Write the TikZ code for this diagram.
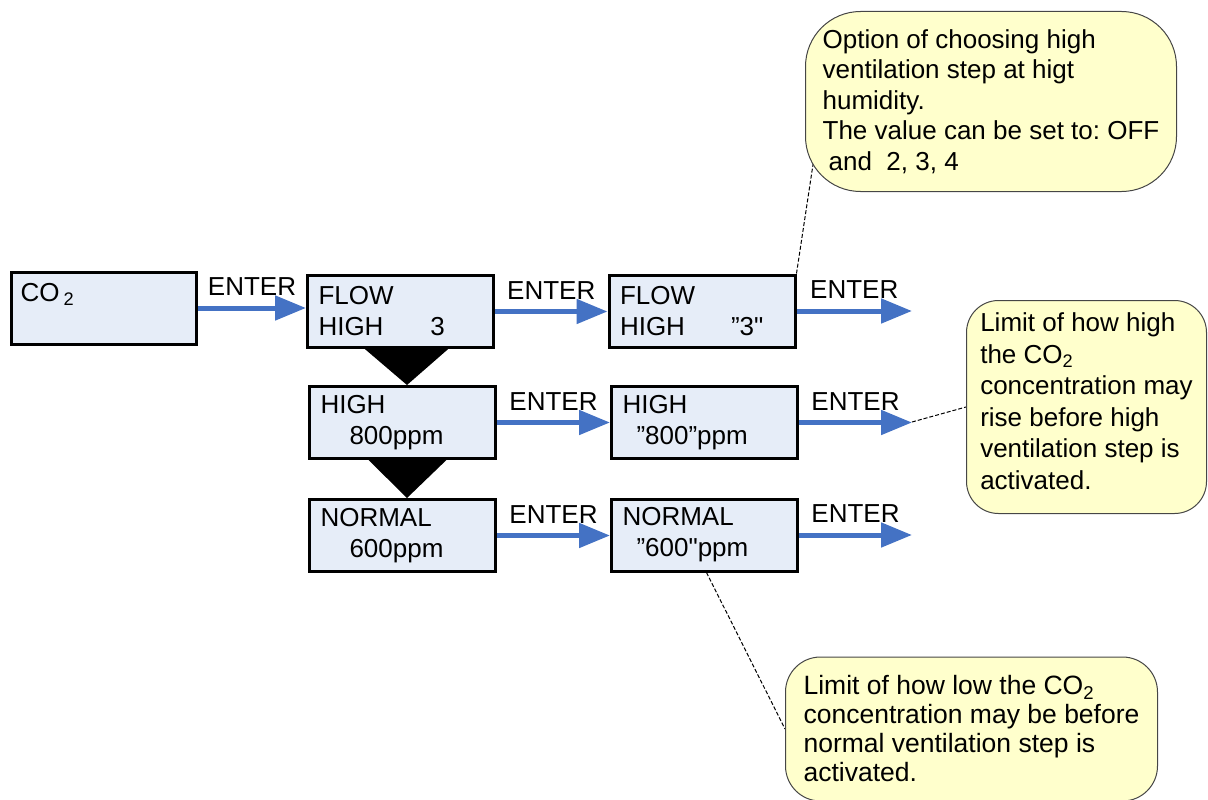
\documentclass[tikz,border=0pt]{standalone}
\usepackage{fontspec}
\setmainfont{Liberation Sans}[Ligatures=TeXOff]
\usetikzlibrary{arrows.meta,backgrounds}
\frenchspacing

\definecolor{cajafondo}{RGB}{230,237,248}
\definecolor{flechaazul}{RGB}{68,114,196}
\definecolor{notafondo}{RGB}{255,255,204}
\definecolor{notaborde}{RGB}{70,70,70}

\tikzset{
  pantalla/.style={draw, line width=3pt, fill=cajafondo, minimum width=186pt, minimum height=72pt,
    text width=164pt, inner xsep=11pt, inner ysep=0pt, align=left, font=\fontsize{26}{31}\selectfont},
  enter/.style={line width=5pt, flechaazul, -{Triangle[length=31pt,width=24pt]}},
  etiqueta/.style={inner sep=0pt, text=black, font=\fontsize{26}{31}\selectfont},
  nota/.style={draw=notaborde, line width=1pt, fill=notafondo, inner sep=0pt, align=left,
    font=\fontsize{26}{30.5}\selectfont},
  guia/.style={black, line width=1pt, dash pattern=on 4pt off 2pt}
}

\begin{document}
\begin{tikzpicture}[x=1pt, y=-1pt]
  \useasboundingbox (0,0) rectangle (1208,800);

  % Pantallas del menu
  \node[pantalla, minimum width=185pt, text width=167pt, inner xsep=9pt] (co2) at (104,308) {CO\hspace{4pt}\textsubscript{2}\\~};
  \node[pantalla] (flow) at (400.5,311.5) {FLOW\\\makebox[112pt][l]{HIGH}3};
  \node[pantalla] (high) at (402.5,422.5) {HIGH\\\hspace*{29pt}800ppm};
  \node[pantalla] (normal) at (402.5,535.5) {NORMAL\\\hspace*{29pt}600ppm};

  % Pantallas con el valor elegido
  \node[pantalla] (flowv) at (702,311) {FLOW\\\makebox[111pt][l]{HIGH}”3"};
  \node[pantalla] (highv) at (704.5,422.5) {HIGH\\\hspace*{14pt}”800”ppm};
  \node[pantalla] (normalv) at (704.5,535) {NORMAL\\\hspace*{14pt}”600"ppm};

  % Extremos libres de las flechas
  \coordinate (flowend) at (912,310);
  \coordinate (highend) at (912,422);
  \coordinate (normalend) at (912,535);

  % Flechas ENTER
  \foreach \a/\b in {co2/flow, flow/flowv, high/highv, normal/normalv} {
    \draw[enter] (\a.east) -- (\a.east -| \b.west) node[etiqueta, midway, above=10pt] {ENTER};
  }
  \foreach \a/\b in {flowv/flowend, highv/highend, normalv/normalend} {
    \draw[enter] (\a.east) -- (\a.east -| \b) node[etiqueta, midway, above=10pt] {ENTER};
  }

  % Triangulos negros entre pantallas
  \fill ([xshift=-38pt,yshift=2pt]flow.south) -- ([xshift=50pt,yshift=2pt]flow.south) -- ([xshift=4.5pt]high.north) -- cycle;
  \fill ([xshift=-36pt,yshift=2pt]high.south) -- ([xshift=46pt,yshift=2pt]high.south) -- ([xshift=4.5pt]normal.north) -- cycle;

  % Notas
  \node[nota, minimum width=371pt, minimum height=180pt, rounded corners=55pt] (nota1) at (991,101.5)
    {Option of choosing high\\ventilation step at higt\\humidity.\\The value can be set to: OFF\\\hspace*{6pt}and\ \ 2, 3, 4};
  \node[nota, minimum width=240pt, minimum height=213pt, rounded corners=32pt, text depth=12pt,
    font=\fontsize{26}{31.5}\selectfont] (nota2) at (1086.5,407)
    {Limit of how high\\the CO\textsubscript{2}\\concentration may\\rise before high\\ventilation step is\\activated.};
  \node[nota, minimum width=372pt, minimum height=144pt, rounded corners=35pt,
    font=\fontsize{26.5}{29}\selectfont] (nota3) at (971.5,729)
    {Limit of how low the CO\textsubscript{2}\\concentration may be before\\normal ventilation step is\\activated.};

  % Lineas de las notas
  \begin{scope}[on background layer]
    \draw[guia] (flowv.north east) -- ([xshift=10pt]nota1.195);
    \draw[guia] (highend) -- (nota2.west);
    \draw[guia] ([xshift=2pt]normalv.south) -- (nota3.west);
  \end{scope}

\end{tikzpicture}
\end{document}
